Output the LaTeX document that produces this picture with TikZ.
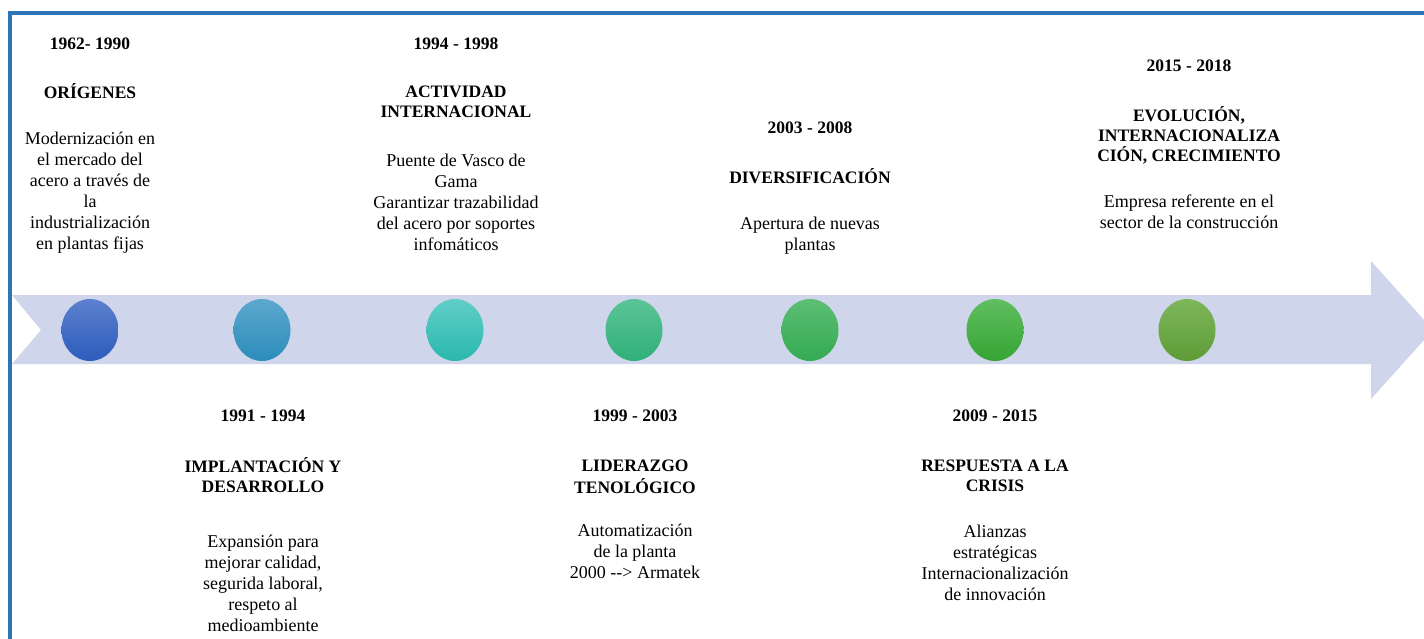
\documentclass[tikz,border=0pt]{standalone}
\usepackage{fontspec}
\setmainfont{Liberation Serif}
\newfontfamily\timeline{Liberation Serif}
\usetikzlibrary{shapes.geometric}

\definecolor{frameblue}{RGB}{46,117,182}
\definecolor{arrowfill}{RGB}{207,213,234}
\definecolor{cAt}{RGB}{92,128,206}  \definecolor{cAb}{RGB}{45,92,188}
\definecolor{cBt}{RGB}{92,168,206}  \definecolor{cBb}{RGB}{44,140,186}
\definecolor{cCt}{RGB}{96,206,200}  \definecolor{cCb}{RGB}{42,184,172}
\definecolor{cDt}{RGB}{92,196,152}  \definecolor{cDb}{RGB}{48,176,120}
\definecolor{cEt}{RGB}{92,190,116}  \definecolor{cEb}{RGB}{52,170,84}
\definecolor{cFt}{RGB}{96,190,96}   \definecolor{cFb}{RGB}{54,164,52}
\definecolor{cGt}{RGB}{126,182,92}  \definecolor{cGb}{RGB}{94,156,54}

\tikzset{
  hd/.style={font=\timeline\bfseries\fontsize{17.5}{20}\selectfont, anchor=north,
             inner sep=0pt, align=center, yshift=8.2pt},
  txt/.style={font=\timeline\fontsize{18}{21}\selectfont, anchor=north,
              inner sep=0pt, align=center, yshift=9.7pt},
  dot/.style 2 args={ellipse, minimum width=57pt, minimum height=62pt,
              inner sep=0pt, top color=#1, bottom color=#2, draw=none}
}

\begin{document}
\begin{tikzpicture}[x=1pt, y=-1pt]
\useasboundingbox (0,0) rectangle (1424,639);
\clip (0,0) rectangle (1424,639);
\fill[white] (0,0) rectangle (1424,639);

% timeline arrow with notched tail
\fill[arrowfill] (12,295) -- (1371,295) -- (1371,261) -- (1433,330)
  -- (1371,399) -- (1371,364) -- (12,364) -- (41,330) -- cycle;

% frame edges
\draw[frameblue, line width=4pt] (1430,13.5) -- (10,13.5) -- (10,650);

% milestone dots
\node[dot={cAt}{cAb}] (m1) at (90,330) {};
\node[dot={cBt}{cBb}] (m2) at (262,330) {};
\node[dot={cCt}{cCb}] (m3) at (455,330) {};
\node[dot={cDt}{cDb}] (m4) at (634,330) {};
\node[dot={cEt}{cEb}] (m5) at (810,330) {};
\node[dot={cFt}{cFb}] (m6) at (995,330) {};
\node[dot={cGt}{cGb}] (m7) at (1187,330) {};

% 1962 - 1990
\node[hd] (d1) at (90,44) {\strut 1962- 1990};
\node[hd] (t1) at (90,91) {\strut ORÍGENES};
\node[txt] (b1) at (90,139) {\strut Modernización en\\ el mercado del\\ acero a través de\\ la\\ industrialización\\ en plantas fijas};

% 1991 - 1994
\node[hd] (d2) at (263,415) {\strut 1991 - 1994};
\node[hd] (t2) at (263,465) {\strut IMPLANTACIÓN Y\\ DESARROLLO};
\node[txt] (b2) at (263,542) {\strut Expansión para\\ mejorar calidad,\\ segurida laboral,\\ respeto al\\ medioambiente};

% 1994 - 1998
\node[hd] (d3) at (456,44) {\strut 1994 - 1998};
\node[hd] (t3) at (456,92) {\strut ACTIVIDAD\\ INTERNACIONAL};
\node[txt] (b3) at (456,161) {\strut Puente de Vasco de\\ Gama\\ Garantizar trazabilidad\\ del acero por soportes\\ infomáticos};

% 1999 - 2003
\node[hd] (d4) at (635,415) {\strut 1999 - 2003};
\node[hd] (t4) at (635,465) {\strut LIDERAZGO\\ TENOLÓGICO};
\node[txt] (b4) at (635,531) {\strut Automatización\\ de la planta\\ 2000 {-}{-}> Armatek};

% 2003 - 2008
\node[hd] (d5) at (810,128) {\strut 2003 - 2008};
\node[hd] (t5) at (810,176) {\strut DIVERSIFICACIÓN};
\node[txt] (b5) at (810,224) {\strut Apertura de nuevas\\ plantas};

% 2009 - 2015
\node[hd] (d6) at (995,415) {\strut 2009 - 2015};
\node[hd] (t6) at (995,465) {\strut RESPUESTA A LA\\ CRISIS};
\node[txt] (b6) at (995,532) {\strut Alianzas\\ estratégicas\\ Internacionalización\\ de innovación};

% 2015 - 2018
\node[hd] (d7) at (1189,66) {\strut 2015 - 2018};
\node[hd] (t7) at (1189,114) {\strut EVOLUCIÓN,\\ INTERNACIONALIZA\\ CIÓN, CRECIMIENTO};
\node[txt] (b7) at (1189,202) {\strut Empresa referente en el\\ sector de la construcción};
\end{tikzpicture}
\end{document}
